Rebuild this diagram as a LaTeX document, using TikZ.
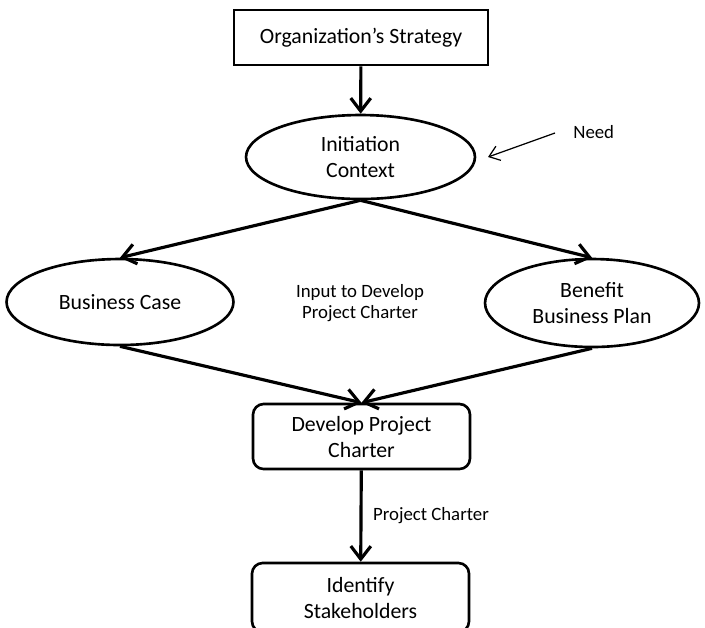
\documentclass[tikz,border=0pt]{standalone}
\usepackage{fontspec}
\setmainfont{Carlito}
\usetikzlibrary{positioning,shapes.geometric,arrows.meta}

\begin{document}
\begin{tikzpicture}[x=0.02cm,y=-0.02cm]
	\tikzset{
		stratbox/.style={
			draw, line width=1.5pt, align=center,
			minimum width=5.08cm, minimum height=1.1cm,
			font=\fontsize{12.4}{14.8}\selectfont
		},
		procbox/.style={
			draw, line width=1.5pt, rounded corners=6pt, align=center,
			minimum width=4.34cm, minimum height=1.3cm, inner sep=1pt,
			font=\fontsize{12.4}{14.8}\selectfont
		},
		ctxell/.style={
			ellipse, draw, line width=1.5pt, align=center, inner sep=0pt,
			font=\fontsize{12.4}{14.8}\selectfont
		},
		smalltxt/.style={
			align=center, inner sep=0pt, font=\fontsize{10.7}{12.3}\selectfont
		},
		flow/.style={
			-{Straight Barb[length=2.6mm,width=4mm]}, line width=1.8pt
		},
		note/.style={
			-{Straight Barb[length=2mm,width=3mm]}, line width=0.7pt
		}
	}
	\useasboundingbox (0,0) rectangle (705,627);

	% ======= top: strategy and context =======
	\node[stratbox] (strat) at (361,37.5) {Organization’s Strategy};
	\node[ctxell, minimum width=4.58cm, minimum height=1.68cm] (ini) at (360.5,157) {Initiation\\Context};

	\draw[flow] (strat) -- (ini);

	% need pointing at the context
	\node[smalltxt, anchor=west] (need) at (573,132) {Need};
	\coordinate (needtail) at (555,133);
	\coordinate (needtip) at (488,157);
	\draw[note] (needtail) -- (needtip);

	% ======= inputs to the charter =======
	\node[ctxell, minimum width=4.54cm, minimum height=1.72cm] (bcase) at (120,302) {Business Case};
	\node[ctxell, minimum width=4.28cm, minimum height=1.76cm] (bplan) at (592,303) {Benefit\\Business Plan};
	\node[smalltxt] (input) at (360,303) {Input to Develop\\Project Charter};

	\draw[flow] (ini.south) -- (bcase.north);
	\draw[flow] (ini.south) -- (bplan.north);

	% ======= charter and stakeholders =======
	\node[procbox] (dev) at (361.5,436.5) {Develop Project\\Charter};
	\node[procbox, minimum height=1.38cm] (ids) at (360.5,597.5) {Identify\\Stakeholders};

	\draw[flow] (bcase.south) -- (dev.north);
	\draw[flow] (bplan.south) -- (dev.north);
	\draw[flow] (dev) -- node[smalltxt, right, pos=0.5, xshift=6pt] {Project Charter} (ids);

\end{tikzpicture}
\end{document}
